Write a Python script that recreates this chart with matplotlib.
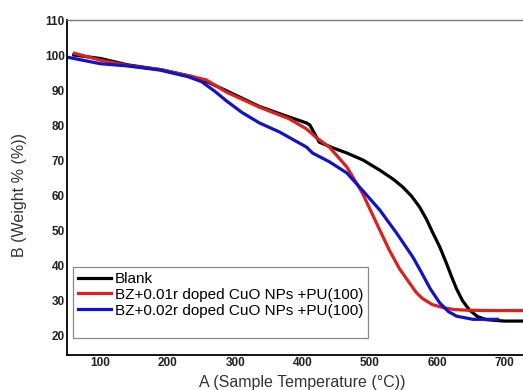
import matplotlib
matplotlib.use('Agg')
import matplotlib.pyplot as plt

plt.rcParams['font.family'] = ['Liberation Sans', 'DejaVu Sans']

# TGA curves
blank_x = [60, 100, 140, 190, 237, 260, 287, 336, 380, 406, 411, 425, 445, 466, 490, 515, 535,
           549, 562, 574, 584, 593, 604, 614, 622, 629, 638, 648, 660, 673, 700, 740]
blank_y = [100, 99, 97.2, 95.8, 93.8, 92.2, 89.8, 85.3, 82.3, 80.6, 80, 75.1, 73.5, 72, 70, 67.1, 64.5,
           62.3, 59.7, 56.6, 53.2, 49.5, 45.2, 40.5, 36.5, 33.2, 29.8, 27.2, 25.3, 24.4, 24, 24]

cuo1_x = [61, 100, 140, 190, 237, 257, 287, 336, 380, 406, 420, 440, 466, 489, 510, 529,
          544, 555, 569, 578, 593, 610, 625, 644, 680, 740]
cuo1_y = [100.5, 98.5, 97, 95.8, 93.8, 92.9, 89.4, 85.1, 81.8, 78.9, 76.5, 73.7, 68, 60.6, 52, 44.3,
          39, 36, 32.2, 30.5, 28.7, 27.8, 27.3, 27.1, 27, 27]

cuo2_x = [50, 100, 139, 188, 230, 250, 270, 287, 310, 336, 366, 406, 415, 440, 466, 489, 515, 540,
          564, 576, 590, 604, 617, 629, 653, 690]
cuo2_y = [99.4, 97.5, 96.9, 95.7, 93.8, 92.4, 89.6, 86.9, 83.6, 80.6, 78, 73.7, 72, 69.5, 66.3, 61.4,
          55.7, 49.1, 42.3, 38.2, 33.2, 29.2, 26.7, 25.4, 24.5, 24.5]

labels = ['Blank', 'BZ+0.01r doped CuO NPs +PU(100)', 'BZ+0.02r doped CuO NPs +PU(100)']
colors = ['#000000', '#e0201c', '#1212cc']

fig = plt.figure(figsize=(5.23, 3.9), dpi=100)
ax = fig.add_axes([0.128, 0.0897, 0.9006, 0.859])

for xs, ys, lab, c in zip([blank_x, cuo1_x, cuo2_x], [blank_y, cuo1_y, cuo2_y], labels, colors):
    ax.plot(xs, ys, color=c, lw=2.3, label=lab)
# empty row so the legend box has the blank strip at the bottom
ax.plot([], [], color='none', label=' ')

ax.set_xlim(50, 750)
ax.set_ylim(14.3, 110)
ax.set_xticks([100, 200, 300, 400, 500, 600, 700])
ax.set_yticks(range(20, 111, 10))
ax.tick_params(length=0, pad=1.5, labelsize=8.5)
for t in ax.get_xticklabels() + ax.get_yticklabels():
    t.set_fontweight('bold')
    t.set_color('#222222')

ax.spines['right'].set_visible(False)
ax.spines['top'].set_color('#777777')
ax.spines['top'].set_linewidth(1.0)
ax.spines['left'].set_linewidth(1.3)
ax.spines['bottom'].set_linewidth(1.3)

ax.set_xlabel('A (Sample Temperature (°C))', fontsize=11.5, color='#333333', va='center')
ax.xaxis.set_label_coords(0.5, -0.0806)
ax.set_ylabel('B (Weight % (%))', fontsize=11.5, color='#333333', va='center')
ax.yaxis.set_label_coords(-0.0998, 0.478)

leg = ax.legend(loc='lower left', bbox_to_anchor=(0.0127, 0.0507), borderaxespad=0,
                fontsize=11, fancybox=False, framealpha=1, handlelength=2.2,
                handletextpad=0.25, labelspacing=0.12, borderpad=0.3)
leg.get_frame().set_edgecolor('#888888')
leg.get_frame().set_linewidth(0.9)

fig.savefig('out.png', dpi=100)
